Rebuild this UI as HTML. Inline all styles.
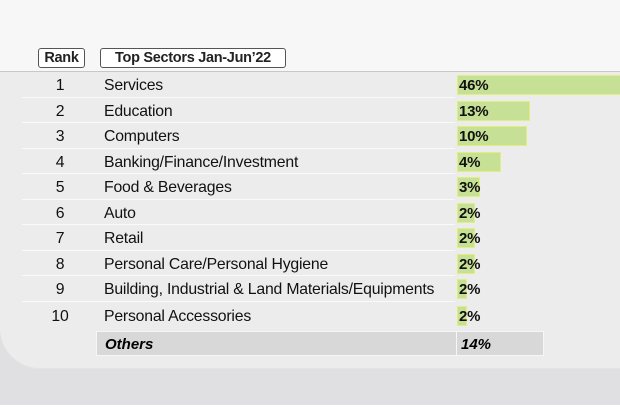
<!DOCTYPE html>
<html><head><style>
body{margin:0;width:620px;height:413px;overflow:hidden;background:#fff;font-family:"Liberation Sans",sans-serif;position:relative}
.top{position:absolute;left:0;top:0;width:620px;height:72px;background:#f7f7f7}
.panel{position:absolute;left:0;top:71px;width:620px;height:296px;background:#ececec;border-top:1px solid #c8c8c8;border-bottom-left-radius:40px;box-shadow:0 1px 0 #e4e4e4}
.bottom{position:absolute;left:0;top:367px;width:620px;height:38px;background:#e0e0e3;z-index:-0}
.bg2{position:absolute;left:0;top:330px;width:60px;height:75px;background:#e0e0e3}
.hdr{position:absolute;top:48px;height:18px;border:1.5px solid #555;border-radius:3px;background:#fff;font-weight:bold;font-size:14.5px;line-height:18px;color:#222;text-align:center;letter-spacing:-0.3px}
.row{position:absolute;left:0;width:620px;height:25px;font-size:15.8px;color:#111;line-height:27px;letter-spacing:-0.2px}
.row .r{position:absolute;left:40px;width:40px;text-align:center}
.row .n{position:absolute;left:104px}
.row .b{position:absolute;left:457px;top:3px;height:20px;background:#c6e096;border:1px solid #e2ee80;box-sizing:border-box}
.row .p{position:absolute;left:459px;font-weight:bold;font-size:15px}
.line{position:absolute;left:22px;width:433px;height:1px;background:#fafafa}
.oth{position:absolute;left:96px;top:331px;width:448px;height:25px;background:#d8d8d8;border:1.5px solid #f6f6f6;box-sizing:border-box;font-style:italic;font-weight:bold;font-size:15px;line-height:25px}
</style></head><body>
<div class="top"></div>
<div class="bg2"></div>
<div class="bottom"></div>
<div class="panel"></div>
<div class="hdr" style="left:38px;width:45px">Rank</div>
<div class="hdr" style="left:100px;width:184px">Top Sectors Jan-Jun’22</div>

<div class="row" style="top:72px"><span class="r">1</span><span class="n">Services</span><span class="b" style="width:170px"></span><span class="p">46%</span></div>
<div class="line" style="top:97px"></div>
<div class="row" style="top:98px"><span class="r">2</span><span class="n">Education</span><span class="b" style="width:73px"></span><span class="p">13%</span></div>
<div class="line" style="top:122px"></div>
<div class="row" style="top:123px"><span class="r">3</span><span class="n">Computers</span><span class="b" style="width:70px"></span><span class="p">10%</span></div>
<div class="line" style="top:148px"></div>
<div class="row" style="top:149px"><span class="r">4</span><span class="n">Banking/Finance/Investment</span><span class="b" style="width:44px"></span><span class="p">4%</span></div>
<div class="line" style="top:173px"></div>
<div class="row" style="top:174px"><span class="r">5</span><span class="n">Food &amp; Beverages</span><span class="b" style="width:23px"></span><span class="p">3%</span></div>
<div class="line" style="top:199px"></div>
<div class="row" style="top:200px"><span class="r">6</span><span class="n">Auto</span><span class="b" style="width:18px"></span><span class="p">2%</span></div>
<div class="line" style="top:224px"></div>
<div class="row" style="top:225px"><span class="r">7</span><span class="n">Retail</span><span class="b" style="width:18px"></span><span class="p">2%</span></div>
<div class="line" style="top:250px"></div>
<div class="row" style="top:251px"><span class="r">8</span><span class="n">Personal Care/Personal Hygiene</span><span class="b" style="width:18px"></span><span class="p">2%</span></div>
<div class="line" style="top:275px"></div>
<div class="row" style="top:276px"><span class="r">9</span><span class="n">Building, Industrial &amp; Land Materials/Equipments</span><span class="b" style="width:10px"></span><span class="p">2%</span></div>
<div class="line" style="top:301px"></div>
<div class="row" style="top:303px"><span class="r">10</span><span class="n">Personal Accessories</span><span class="b" style="width:10px"></span><span class="p">2%</span></div>
<div class="oth"><span style="position:absolute;left:8px">Others</span><span style="position:absolute;left:359px;height:100%;border-left:1.5px solid #f6f6f6;padding-left:4px">14%</span></div>
</body></html>
